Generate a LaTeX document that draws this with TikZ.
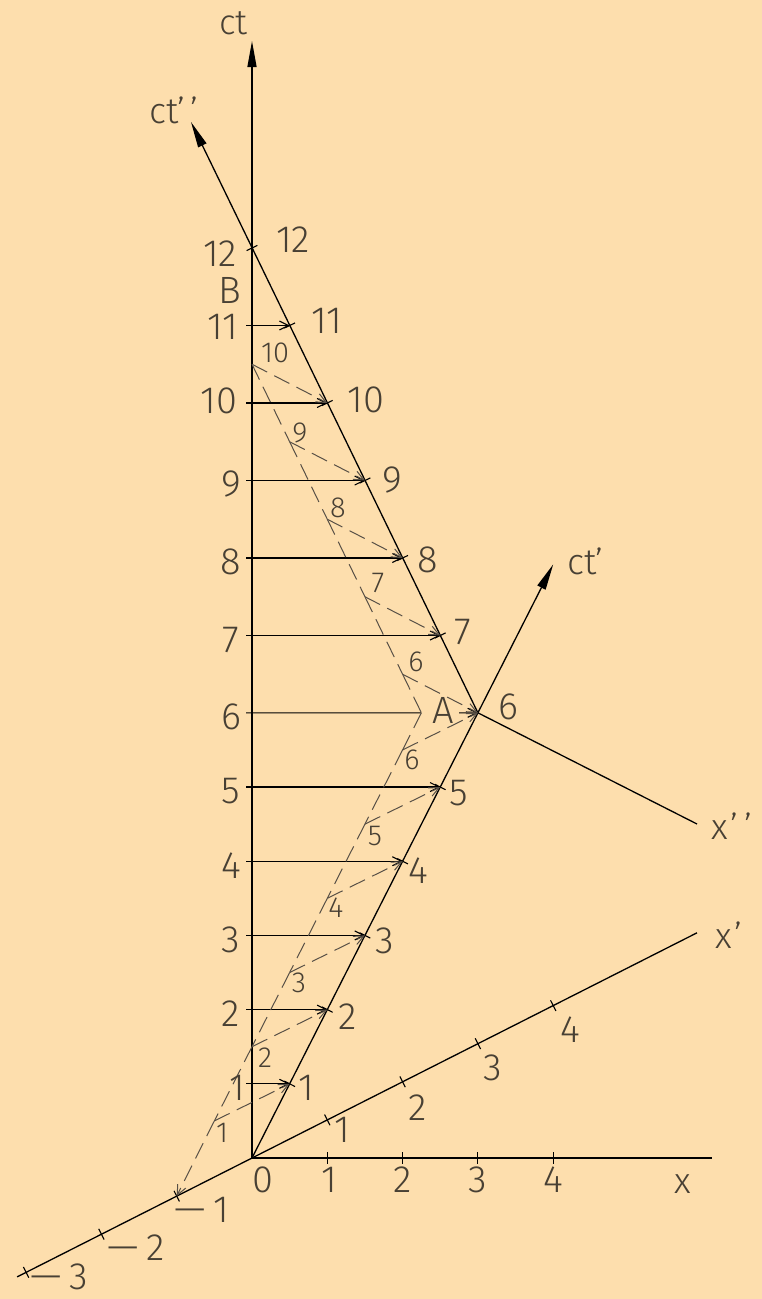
\documentclass[tikz,border=0pt]{standalone}
\usepackage{fontspec}
\setmainfont{Fira Sans Light}
\usetikzlibrary{arrows.meta,calc}
\definecolor{bg}{RGB}{253,222,173}
\definecolor{txt}{RGB}{72,64,52}
\definecolor{dsh}{RGB}{88,80,70}
\newcommand{\mym}{\scalebox{2.1}[1]{−}\kern4pt}
\begin{document}
\begin{tikzpicture}[x=1pt,y=-1pt,
  ax/.style={line width=1.3pt, black},
  axarrow/.style={ax, -{Triangle[length=26pt,width=9pt]}},
  hplain/.style={line width=1.1pt, black},
  hline/.style={hplain, -{Straight Barb[length=9pt,width=9pt]}},
  sig/.style={dsh, line width=1pt, dash pattern=on 17pt off 8pt},
  sigarrow/.style={sig, -{Straight Barb[length=10pt,width=9pt]}},
  tk/.style={line width=1.1pt, black},
  big/.style={text=txt, font=\fontsize{38}{40}\selectfont, inner sep=0pt},
  small/.style={text=txt, font=\fontsize{29}{31}\selectfont, inner sep=0pt},
  lab/.style={text=txt, font=\fontsize{36}{38}\selectfont, inner sep=0pt, anchor=base west},
]
\fill[bg] (0,0) rectangle (762,1299);
\useasboundingbox (0,0) rectangle (762,1299);

% ---------- coordinates ----------
\coordinate (O) at (252,1158);
\coordinate (ctend) at (252,41);
\coordinate (xend) at (712,1158);
\coordinate (xpend) at (697,932.8);
\coordinate (xnend) at (17.1,1276.9);
\coordinate (ctpend) at (553.2,564.4);
\coordinate (ctppend) at (191,122);
\coordinate (xppend) at (697,824);
\coordinate (C) at (421.4,712.8);
\coordinate (A6) at (459,712.8);
\foreach \n in {1,...,6}{
  \coordinate (w\n) at ({252+37.65*\n},{1158-74.2*\n});
  \coordinate (s\n) at (246,{1158-74.2*\n});
  \coordinate (k\n) at ({252+75.3*(\n/2-1)},{1158-74.2*(\n-0.5)});
}
\foreach \n in {7,...,12}{
  \coordinate (w\n) at ({252+37.65*(12-\n)},{1178-77.5*\n});
  \coordinate (s\n) at (246,{1178-77.5*\n});
}
\foreach \n in {6,...,10}{
  \coordinate (q\n) at ({252+75.3*(2-(\n-6)/2)},{1178-77.5*(\n+0.5)});
}
\foreach \n in {1,...,4}{
  \coordinate (pp\n) at ({252+75.3*\n},{1158-38.1*\n});
  \coordinate (xt\n) at ({252+75.3*\n},1158);
}
\foreach \n in {1,2,3}{
  \coordinate (pm\n) at ({252-75.3*\n},{1158+38.1*\n});
}

% ---------- axes ----------
\draw[axarrow] (O) -- (ctend);
\draw[ax] (O) -- (xend);
\draw[ax] (xnend) -- (xpend);
\draw[axarrow] (O) -- (ctpend);
\draw[axarrow] (w6) -- (ctppend);
\draw[ax] (w6) -- (xppend);

% ---------- ticks ----------
\foreach \n in {1,...,4}{
  \draw[tk] ($(xt\n)+(0,-6)$) -- ($(xt\n)+(0,6)$);
  \draw[tk] ($(pp\n)+(-2.7,-5.35)$) -- ($(pp\n)+(2.7,5.35)$);
}
\foreach \n in {1,2,3}
  \draw[tk] ($(pm\n)+(-2.7,-5.35)$) -- ($(pm\n)+(2.7,5.35)$);
\foreach \n in {1,...,5}
  \draw[tk] ($(w\n)+(-5.35,-2.71)$) -- ($(w\n)+(5.35,2.71)$);
\foreach \n in {7,...,12}
  \draw[tk] ($(w\n)+(-5.4,2.6)$) -- ($(w\n)+(5.4,-2.6)$);

% ---------- horizontal arrows ----------
\foreach \n in {1,2,3,4,5,7,8,9,10,11}
  \draw[hline] (s\n) -- (w\n);
\draw[hplain] (s6) -- (C);
\draw[hline] (A6) -- (w6);

% ---------- dashed construction ----------
\draw[sig] (C) -- (k6);
\foreach \a/\b in {6/5,5/4,4/3,3/2,2/1}
  \draw[sig] (k\a) -- (k\b);
\draw[sigarrow] (k1) -- (pm1);
\foreach \a/\b in {10/9,9/8,8/7,7/6}
  \draw[sig] (q\a) -- (q\b);
\draw[sig] (q6) -- (C);
\foreach \n in {1,...,6}
  \draw[sigarrow] (k\n) -- (w\n);
\foreach \n in {6,...,10}
  \draw[sigarrow] (q\n) -- (w\n);

% ---------- labels on ct axis ----------
\node[big] (cl1) at (237.5,1088) {1};
\node[big] (cl2) at (231,1014) {2};
\node[big] (cl3) at (231,940) {3};
\node[big] (cl4) at (231,866) {4};
\node[big] (cl5) at (231,791) {5};
\node[big] (cl6) at (231,717) {6};
\node[big] (cl7) at (231,640) {7};
\node[big] (cl8) at (231,562) {8};
\node[big] (cl9) at (231,484) {9};
\node[big] (cl10) at (219,401) {10};
\node[big] (cl11) at (223,327) {11};
\node[big] (cl12) at (220,254) {12};
\node[big] (labB) at (230,290) {B};

% ---------- labels on world line ----------
\node[big] (wl1) at (306.5,1088) {1};
\node[big] (wl2) at (347.5,1017) {2};
\node[big] (wl3) at (385,941) {3};
\node[big] (wl4) at (418.5,871) {4};
\node[big] (wl5) at (459,793) {5};
\node[big] (wl6) at (508,707) {6};
\node[big] (wl7) at (462.5,632) {7};
\node[big] (wl8) at (428,560) {8};
\node[big] (wl9) at (392.5,480) {9};
\node[big] (wl10) at (366,400) {10};
\node[big] (wl11) at (326.5,321) {11};
\node[big] (wl12) at (293,240) {12};
\node[big] (labA) at (443,710) {A};

% ---------- labels on x axis ----------
\node[big] (xl0) at (263,1180) {0};
\node[big] (xl1) at (329,1180) {1};
\node[big] (xl2) at (403,1180) {2};
\node[big] (xl3) at (478,1180) {3};
\node[big] (xl4) at (553,1180) {4};

% ---------- labels on x' axis ----------
\node[big] (pl1) at (342,1130) {1};
\node[big] (pl2) at (418,1108) {2};
\node[big] (pl3) at (493,1068) {3};
\node[big] (pl4) at (570,1030) {4};
\node[big] (ml1) at (200,1210) {\mym 1};
\node[big] (ml2) at (134,1248) {\mym 2};
\node[big] (ml3) at (57,1277) {\mym 3};

% ---------- small labels ----------
\node[small] (sl1) at (222,1133) {1};
\node[small] (sl2) at (265,1058) {2};
\node[small] (sl3) at (299,983) {3};
\node[small] (sl4) at (336,908) {4};
\node[small] (sl5) at (375,836) {5};
\node[small] (sl6) at (412,760) {6};
\node[small] (su6) at (416,662) {6};
\node[small] (su7) at (378,583) {7};
\node[small] (su8) at (338,508) {8};
\node[small] (su9) at (300,433) {9};
\node[small] (su10) at (275,353) {10};

% ---------- axis names ----------
\node[lab, font=\fontsize{35}{37}\selectfont] (nct) at (219,34) {ct};
\node[lab] (nctpp) at (149,123) {ct’\kern5pt’};
\node[lab] (nctp) at (567,574) {ct’};
\node[lab] (nxpp) at (711,839) {x\kern3pt’\kern6pt’};
\node[lab] (nxp) at (715,948) {x\kern3pt’};
\node[lab] (nx) at (674,1193) {x};
\end{tikzpicture}
\end{document}
